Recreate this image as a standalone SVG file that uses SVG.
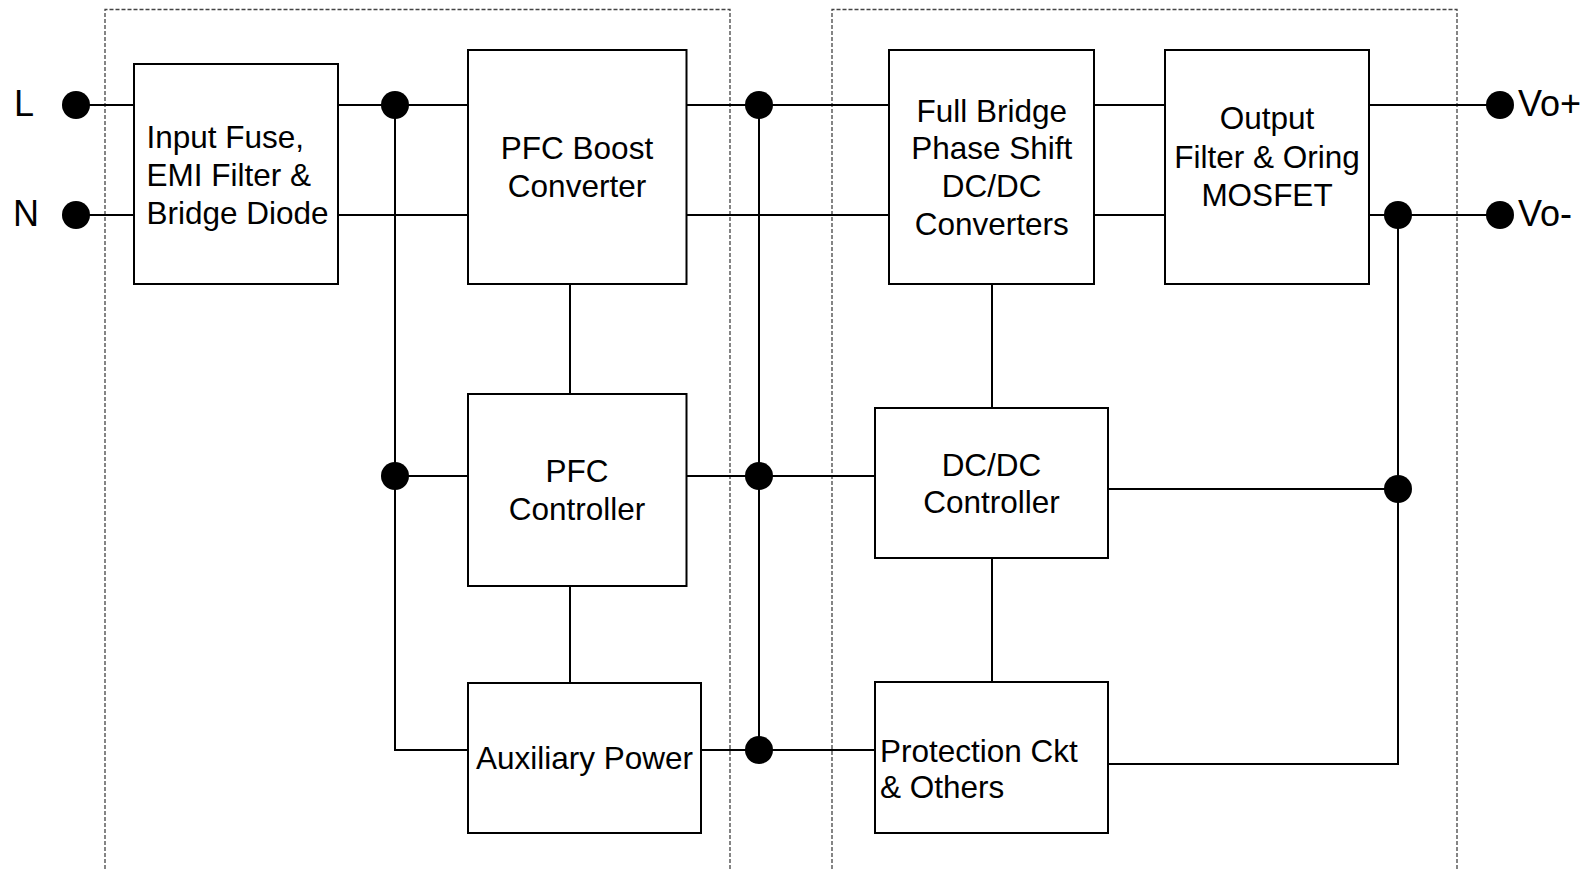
<svg xmlns="http://www.w3.org/2000/svg" width="1592" height="869" viewBox="0 0 1592 869">
<style>
.box{fill:#fff;stroke:#000;stroke-width:2}
.ln{fill:none;stroke:#000;stroke-width:2}
.dash{fill:none;stroke:#444;stroke-width:1.3;stroke-dasharray:4 2}
.dot{fill:#000}
text{font-family:"Liberation Sans",Arial,sans-serif;fill:#000}
.t{font-size:31.5px}
.c{text-anchor:middle}
.big{font-size:36px}
</style>
<rect width="1592" height="869" fill="#fff"/>
<g id="regions">
<path class="dash" d="M105,869 V9.5 H730 V869"/>
<path class="dash" d="M832,869 V9.5 H1457 V869"/>
</g>
<g id="connectors">
<path class="ln" d="M76,105 H134 M76,215 H134"/>
<path class="ln" d="M338,105 H468 M338,215 H468"/>
<path class="ln" d="M395,105 V750 H468 M395,476 H468"/>
<path class="ln" d="M686,105 H889 M686,215 H889"/>
<path class="ln" d="M759,105 V750"/>
<path class="ln" d="M570,284 V394 M570,586 V683"/>
<path class="ln" d="M686,476 H875 M701,750 H875"/>
<path class="ln" d="M1094,105 H1165 M1094,215 H1165"/>
<path class="ln" d="M1369,105 H1500 M1369,215 H1500"/>
<path class="ln" d="M992,284 V408 M992,558 V682"/>
<path class="ln" d="M1108,489 H1398 M1108,764 H1398 V215"/>
<circle class="dot" cx="76" cy="105" r="14"/>
<circle class="dot" cx="76" cy="215" r="14"/>
<circle class="dot" cx="395" cy="105" r="14"/>
<circle class="dot" cx="395" cy="476" r="14"/>
<circle class="dot" cx="759" cy="105" r="14"/>
<circle class="dot" cx="759" cy="476" r="14"/>
<circle class="dot" cx="759" cy="750" r="14"/>
<circle class="dot" cx="1398" cy="215" r="14"/>
<circle class="dot" cx="1398" cy="489" r="14"/>
<circle class="dot" cx="1500" cy="105" r="14"/>
<circle class="dot" cx="1500" cy="215" r="14"/>
</g>
<g id="terminals">
<text class="big" x="14" y="116">L</text>
<text class="big" x="13" y="226">N</text>
<text class="big" x="1518" y="116">Vo+</text>
<text class="big" x="1518" y="226">Vo-</text>
</g>
<g id="input-filter">
<rect class="box" x="134" y="64" width="204" height="220"/>
<text class="t" x="146.5" y="148.3">Input Fuse,</text>
<text class="t" x="146.5" y="185.8">EMI Filter &amp;</text>
<text class="t" x="146.5" y="224">Bridge Diode</text>
</g>
<g id="pfc-boost">
<rect class="box" x="468" y="50" width="218.5" height="234"/>
<text class="t c" x="577" y="159.3">PFC Boost</text>
<text class="t c" x="577" y="197.3">Converter</text>
</g>
<g id="pfc-controller">
<rect class="box" x="468" y="394" width="218.5" height="192"/>
<text class="t c" x="577" y="481.7">PFC</text>
<text class="t c" x="577" y="520">Controller</text>
</g>
<g id="aux-power">
<rect class="box" x="468" y="683" width="233" height="150"/>
<text class="t" x="476" y="769.3">Auxiliary Power</text>
</g>
<g id="full-bridge">
<rect class="box" x="889" y="50" width="205" height="234"/>
<text class="t c" x="991.7" y="121.7">Full Bridge</text>
<text class="t c" x="991.7" y="159.3">Phase Shift</text>
<text class="t c" x="991.7" y="196.7">DC/DC</text>
<text class="t c" x="991.7" y="235">Converters</text>
</g>
<g id="output-filter">
<rect class="box" x="1165" y="50" width="204" height="234"/>
<text class="t c" x="1267" y="129.3">Output</text>
<text class="t c" x="1267" y="167.7">Filter &amp; Oring</text>
<text class="t c" x="1267" y="205.7">MOSFET</text>
</g>
<g id="dcdc-controller">
<rect class="box" x="875" y="408" width="233" height="150"/>
<text class="t c" x="991.5" y="475.7">DC/DC</text>
<text class="t c" x="991.5" y="513.3">Controller</text>
</g>
<g id="protection">
<rect class="box" x="875" y="682" width="233" height="151"/>
<text class="t" x="880" y="761.7">Protection Ckt</text>
<text class="t" x="880" y="798.3">&amp; Others</text>
</g>
</svg>
